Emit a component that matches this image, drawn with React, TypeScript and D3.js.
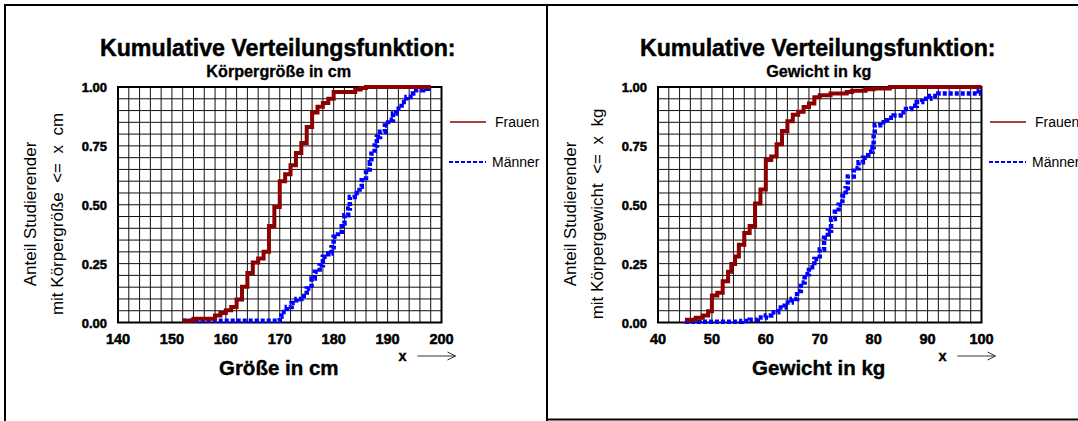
import React from "react";
import * as d3 from "d3";

// ---------- data ----------
// Körpergröße (cm)
const groesseFrauenX = [152, 154, 158, 159, 160, 161, 162, 163, 164, 165, 166, 167, 168, 169, 170, 171, 172, 173, 174, 175, 176, 177, 178, 179, 180, 184, 185, 186, 198];
const groesseFrauenY = [0.007, 0.016, 0.03, 0.04, 0.052, 0.066, 0.098, 0.152, 0.21, 0.255, 0.272, 0.3, 0.41, 0.49, 0.6, 0.63, 0.668, 0.72, 0.762, 0.83, 0.892, 0.916, 0.932, 0.95, 0.979, 0.989, 0.996, 1.0, 1.0];
const groesseMaennerX = [152, 170, 170.3, 171.3, 172.2, 173.1, 174, 175, 175.9, 176.5, 177.4, 178, 179, 179.6, 180, 180.8, 181.5, 182, 182.7, 183, 183.9, 184.8, 185.2, 186, 186.7, 187, 187.6, 188, 188.6, 189.5, 190.1, 191, 191.6, 192.6, 193.5, 194.7, 195.3, 196.6, 197.5, 198];
const groesseMaennerY = [0.007, 0.024, 0.045, 0.066, 0.083, 0.1, 0.112, 0.144, 0.187, 0.215, 0.243, 0.279, 0.293, 0.32, 0.364, 0.385, 0.42, 0.455, 0.484, 0.533, 0.55, 0.576, 0.604, 0.65, 0.68, 0.717, 0.752, 0.788, 0.81, 0.837, 0.861, 0.887, 0.908, 0.936, 0.958, 0.972, 0.986, 0.993, 0.997, 0.997];

// Gewicht (kg)
const gewichtFrauenX = [45, 47, 48.3, 49.3, 50, 51, 52, 53, 53.6, 54.3, 55, 56, 57, 58, 59, 60, 61, 62, 63, 64, 65, 66, 67, 68, 69, 70, 72, 75, 76, 78.5, 80, 83, 100];
const gewichtFrauenY = [0.012, 0.02, 0.03, 0.048, 0.115, 0.126, 0.175, 0.215, 0.248, 0.28, 0.33, 0.38, 0.41, 0.505, 0.565, 0.69, 0.705, 0.757, 0.813, 0.855, 0.882, 0.895, 0.915, 0.93, 0.957, 0.965, 0.972, 0.979, 0.984, 0.99, 0.994, 1.0, 1.0];
const gewichtMaennerX = [45, 55.5, 57, 58.5, 60, 61, 62.3, 63.5, 64.8, 65.8, 66.5, 67.2, 68, 69, 70, 70.8, 71.5, 72.1, 72.8, 73.5, 74.2, 74.8, 75.2, 76.3, 77.2, 78, 79, 79.8, 80, 80.2, 81.2, 82.5, 83.7, 85, 86, 87, 88, 89, 90.5, 92, 99.5, 100];
const gewichtMaennerY = [0.003, 0.006, 0.012, 0.021, 0.03, 0.043, 0.064, 0.085, 0.1, 0.134, 0.17, 0.205, 0.235, 0.27, 0.31, 0.36, 0.39, 0.44, 0.47, 0.5, 0.537, 0.57, 0.62, 0.655, 0.68, 0.7, 0.725, 0.745, 0.8, 0.838, 0.85, 0.869, 0.879, 0.893, 0.907, 0.92, 0.936, 0.95, 0.962, 0.972, 0.988, 0.988];

const yTicks = [0, 0.25, 0.5, 0.75, 1.0];
const groesseTicks = [140, 150, 160, 170, 180, 190, 200];
const gewichtTicks = [40, 50, 60, 70, 80, 90, 100];
const seriesNames = ["Frauen", "Männer"];

const FONT = "'Liberation Sans', Arial, Helvetica, sans-serif";
const RED = "#8b0000";
const BLUE = "#0000ff";

type PanelProps = {
  ox: number;
  domain: [number, number];
  xTicks: number[];
  subtitle: string;
  xTitle: string;
  yLine2: string;
  fx: number[]; fy: number[]; mx: number[]; my: number[];
};

function Panel({ ox, domain, xTicks, subtitle, xTitle, yLine2, fx, fy, mx, my }: PanelProps) {
  const x0 = 118 + ox, x1 = 441.5 + ox, yTop = 87, yBot = 322.5;
  const x = d3.scaleLinear().domain(domain).range([x0, x1]);
  const y = d3.scaleLinear().domain([0, 1]).range([yBot, yTop]);
  const gridX = d3.range(domain[0], domain[1] + 0.001, 2);
  const gridY = d3.range(0, 1.0001, 0.05);
  const line = d3.line<[number, number]>().x(d => x(d[0])).y(d => y(d[1])).curve(d3.curveStepAfter);
  const fData = fx.map((v, i) => [v, fy[i]] as [number, number]);
  const mData = mx.map((v, i) => [v, my[i]] as [number, number]);
  const cx = (x0 + x1) / 2 - 2;
  const ax1 = x1 - 24, ax2 = x1 + 14, ay = 356;
  const heavy = { stroke: "#000", strokeWidth: 0.45 };
  return (
    <g>
      <text x={cx} y={56} textAnchor="middle" fontFamily={FONT} fontWeight="bold" fontSize={23.2} {...heavy}>Kumulative Verteilungsfunktion:</text>
      <text x={cx + 1} y={77} textAnchor="middle" fontFamily={FONT} fontWeight="bold" fontSize={16.2} stroke="#000" strokeWidth={0.3}>{subtitle}</text>
      {gridX.map((g, i) => (
        <line key={"gx" + i} x1={x(g)} x2={x(g)} y1={yTop} y2={yBot} stroke="#111" strokeWidth={1} />
      ))}
      {gridY.map((g, i) => (
        <line key={"gy" + i} x1={x0} x2={x1} y1={y(g)} y2={y(g)} stroke="#111" strokeWidth={1} />
      ))}
      <rect x={x0} y={yTop} width={x1 - x0} height={yBot - yTop} fill="none" stroke="#000" strokeWidth={2} />
      {yTicks.map((t, i) => (
        <text key={"yt" + i} x={x0 - 11} y={y(t) + 5} textAnchor="end" fontFamily={FONT} fontWeight="bold" fontSize={13} stroke="#000" strokeWidth={0.5}>{t.toFixed(2)}</text>
      ))}
      {xTicks.map((t, i) => (
        <text key={"xt" + i} x={x(t)} y={344} textAnchor="middle" fontFamily={FONT} fontWeight="bold" fontSize={14.5} stroke="#000" strokeWidth={0.5}>{t}</text>
      ))}
      <path d={line(mData) || ""} fill="none" stroke={BLUE} strokeWidth={4.5} strokeDasharray="4,2" />
      <path d={line(fData) || ""} fill="none" stroke={RED} strokeWidth={4} />
      <text x={ax1 - 15} y={361} textAnchor="middle" fontFamily={FONT} fontWeight="bold" fontSize={14.5} stroke="#000" strokeWidth={0.4}>x</text>
      <line x1={ax1} x2={ax2} y1={ay} y2={ay} stroke="#333" strokeWidth={1} />
      <path d={`M${ax2 - 8},${ay - 4} L${ax2},${ay} L${ax2 - 8},${ay + 4}`} fill="none" stroke="#333" strokeWidth={1} />
      <text x={cx + 1} y={375} textAnchor="middle" fontFamily={FONT} fontWeight="bold" fontSize={20.5} stroke="#000" strokeWidth={0.4}>{xTitle}</text>
      <text transform={`translate(${36 + ox},214) rotate(-90)`} textAnchor="middle" fontFamily={FONT} fontSize={17}>Anteil Studierender</text>
      <text transform={`translate(${63 + ox},214) rotate(-90)`} textAnchor="middle" fontFamily={FONT} fontSize={17} style={{ whiteSpace: "pre" }}>{yLine2}</text>
      <line x1={450 + ox} x2={486 + ox} y1={122} y2={122} stroke={RED} strokeWidth={1.5} />
      <text x={495 + ox} y={127} fontFamily={FONT} fontSize={14}>{seriesNames[0]}</text>
      <line x1={449 + ox} x2={486 + ox} y1={162} y2={162} stroke={BLUE} strokeWidth={2} strokeDasharray="4,2" />
      <text x={492 + ox} y={167} fontFamily={FONT} fontSize={14}>{seriesNames[1]}</text>
    </g>
  );
}

export default function App() {
  return (
    <svg width={1078} height={421} style={{ position: "fixed", left: 0, top: 0, background: "#fff" }}>
      <rect x={0} y={0} width={1078} height={421} fill="#fff" />
      <Panel ox={0} domain={[140, 200]} xTicks={groesseTicks} subtitle="Körpergröße in cm" xTitle="Größe in cm"
        yLine2="mit Körpergröße  <=  x  cm" fx={groesseFrauenX} fy={groesseFrauenY} mx={groesseMaennerX} my={groesseMaennerY} />
      <Panel ox={540} domain={[40, 100]} xTicks={gewichtTicks} subtitle="Gewicht in kg" xTitle="Gewicht in kg"
        yLine2="mit Körpergewicht  <=  x  kg" fx={gewichtFrauenX} fy={gewichtFrauenY} mx={gewichtMaennerX} my={gewichtMaennerY} />
      <path d="M5,430 L5,5 L547,5 L547,430" fill="none" stroke="#000" strokeWidth={2} />
      <path d="M1090,5 L547,5 L547,419.5 L1090,419.5" fill="none" stroke="#000" strokeWidth={2} />
    </svg>
  );
}
